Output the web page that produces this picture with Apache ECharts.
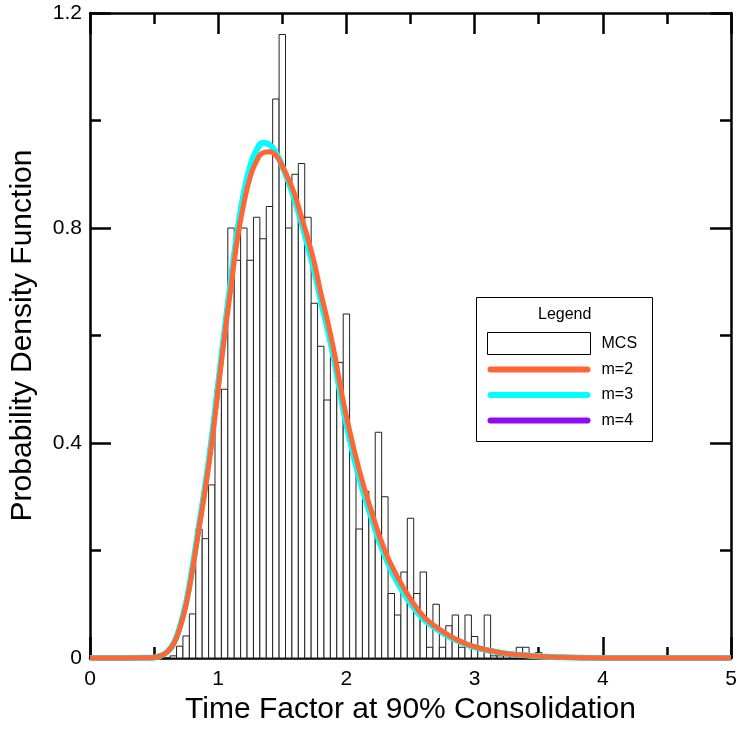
<!DOCTYPE html>
<html>
<head>
<meta charset="utf-8">
<script src="https://cdn.jsdelivr.net/npm/echarts@6/dist/echarts.min.js"></script>
<style>
  html, body { margin: 0; padding: 0; background: #fff; }
  #chart { width: 742px; height: 730px; }
</style>
</head>
<body>
<div id="chart"></div>
<script>
// histogram (MCS) - bin centres and heights, bin width 0.05
var binX = [0.65, 0.70, 0.75, 0.80, 0.85, 0.90, 0.95, 1.00, 1.05, 1.10,
  1.15, 1.20, 1.25, 1.30, 1.35, 1.40, 1.45, 1.50, 1.55, 1.60,
  1.65, 1.70, 1.75, 1.80, 1.85, 1.90, 1.95, 2.00, 2.05, 2.10,
  2.15, 2.20, 2.25, 2.30, 2.35, 2.40, 2.45, 2.50, 2.55, 2.60,
  2.65, 2.70, 2.75, 2.80, 2.85, 2.90, 2.95, 3.00, 3.05, 3.10,
  3.15, 3.20, 3.25, 3.30, 3.35, 3.40, 3.45, 3.50];
var binH = [0.004, 0.022, 0.041, 0.082, 0.24, 0.222, 0.322, 0.50, 0.50, 0.80,
  0.74, 0.80, 0.74, 0.82, 0.78, 0.84, 1.04, 1.16, 0.80, 0.90,
  0.92, 0.82, 0.66, 0.58, 0.48, 0.56, 0.55, 0.64, 0.38, 0.24,
  0.31, 0.26, 0.42, 0.30, 0.12, 0.08, 0.16, 0.26, 0.12, 0.16,
  0.02, 0.10, 0.02, 0.06, 0.08, 0.02, 0.08, 0.04, 0.02, 0.08,
  0.004, 0.004, 0.004, 0.004, 0.02, 0.02, 0.004, 0.01];
var binWidth = 0.05;

// fitted PDF curves
var curveX = [0, 0.3, 0.45, 0.5, 0.55, 0.6, 0.65, 0.7, 0.75, 0.8,
  0.85, 0.9, 0.95, 1.0, 1.05, 1.1, 1.15, 1.2, 1.25, 1.3,
  1.35, 1.4, 1.45, 1.5, 1.55, 1.6, 1.65, 1.7, 1.75, 1.8,
  1.85, 1.9, 1.95, 2.0, 2.1, 2.2, 2.3, 2.4, 2.5, 2.6,
  2.7, 2.8, 2.9, 3.0, 3.2, 3.4, 3.6, 4.0, 5.0];
var m2Y = [0, 0, 0.0005, 0.001, 0.004, 0.011, 0.025, 0.055, 0.10, 0.165,
  0.24, 0.315, 0.40, 0.50, 0.60, 0.69, 0.78, 0.845, 0.895, 0.925,
  0.94, 0.942, 0.935, 0.915, 0.89, 0.86, 0.82, 0.78, 0.735, 0.68,
  0.63, 0.575, 0.51, 0.45, 0.35, 0.27, 0.20, 0.15, 0.11, 0.078,
  0.058, 0.042, 0.03, 0.021, 0.01, 0.005, 0.002, 0, 0];
var m3Y = [0, 0, 0.0005, 0.001, 0.004, 0.011, 0.026, 0.057, 0.103, 0.17,
  0.246, 0.323, 0.41, 0.51, 0.61, 0.705, 0.795, 0.865, 0.915, 0.945,
  0.958, 0.955, 0.94, 0.915, 0.885, 0.85, 0.81, 0.765, 0.72, 0.665,
  0.615, 0.56, 0.495, 0.435, 0.335, 0.258, 0.19, 0.14, 0.102, 0.073,
  0.055, 0.04, 0.029, 0.02, 0.01, 0.005, 0.002, 0, 0];
var m4Y = [0, 0, 0.0005, 0.001, 0.004, 0.011, 0.026, 0.057, 0.103, 0.17,
  0.246, 0.323, 0.41, 0.51, 0.61, 0.705, 0.795, 0.865, 0.915, 0.945,
  0.958, 0.955, 0.94, 0.915, 0.885, 0.85, 0.81, 0.765, 0.72, 0.665,
  0.615, 0.56, 0.495, 0.435, 0.335, 0.258, 0.19, 0.14, 0.102, 0.073,
  0.055, 0.04, 0.029, 0.02, 0.01, 0.005, 0.002, 0, 0];

function pairs(xs, ys) {
  return xs.map(function (x, i) { return [x, ys[i]]; });
}

var FONT = "Liberation Sans";
var lineIcon = "path://M3,0 L103,0 A3,3 0 0 1 103,6 L3,6 A3,3 0 0 1 3,0 Z";

var myChart = echarts.init(document.getElementById("chart"));

var axisCommon = {
  axisLine: { show: true, onZero: false, lineStyle: { color: "#000", width: 2.5 } },
  axisTick: { show: true, inside: true, length: 21, lineStyle: { color: "#000", width: 2.5 } },
  minorTick: { show: true, splitNumber: 2, length: 11, lineStyle: { color: "#000", width: 2.5 } },
  splitLine: { show: false }
};

var option = {
  animation: false,
  backgroundColor: "#fff",
  grid: { left: 86, right: 11, top: 13, bottom: 69 },
  xAxis: [
    Object.assign({
      type: "value", min: 0, max: 5, interval: 1, position: "bottom",
      name: "Time Factor at 90% Consolidation",
      nameLocation: "middle", nameGap: 37,
      nameTextStyle: { fontFamily: FONT, fontSize: 30, color: "#000" },
      axisLabel: { fontFamily: FONT, fontSize: 21, color: "#000", margin: 11 }
    }, axisCommon),
    Object.assign({
      type: "value", min: 0, max: 5, interval: 1, position: "top",
      axisLabel: { show: false }
    }, axisCommon)
  ],
  yAxis: [
    Object.assign({
      type: "value", min: 0, max: 1.2, interval: 0.4, position: "left",
      name: "Probability Density Function",
      nameLocation: "middle", nameGap: 52,
      nameTextStyle: { fontFamily: FONT, fontSize: 30, color: "#000" },
      axisLabel: { fontFamily: FONT, fontSize: 21, color: "#000", margin: 8 }
    }, axisCommon),
    Object.assign({
      type: "value", min: 0, max: 1.2, interval: 0.4, position: "right",
      axisLabel: { show: false }
    }, axisCommon)
  ],
  legend: {
    left: 487, top: 332, z: 10, padding: 0,
    orient: "vertical",
    itemWidth: 103, itemHeight: 22, itemGap: 3.5,
    textStyle: { fontFamily: FONT, fontSize: 16, lineHeight: 22, color: "#000", padding: [0, 0, 0, 6] },
    data: [
      { name: "MCS", icon: "rect", itemStyle: { color: "#fff", borderColor: "#000", borderWidth: 1 } },
      { name: "m=2", icon: lineIcon },
      { name: "m=3", icon: lineIcon },
      { name: "m=4", icon: lineIcon }
    ]
  },
  graphic: [
    {
      type: "rect", left: 476, top: 297, z: 1, silent: true,
      shape: { width: 176, height: 144 },
      style: { fill: "#fff", stroke: "#000", lineWidth: 1 }
    },
    {
      type: "text", left: 538, top: 307, z: 2, silent: true,
      style: { text: "Legend", font: "16px " + FONT, fill: "#000" }
    }
  ],
  series: [
    {
      name: "MCS",
      type: "custom",
      z: 1,
      itemStyle: { color: "#fff", borderColor: "#000" },
      data: pairs(binX, binH),
      encode: { x: 0, y: 1 },
      renderItem: function (params, api) {
        var x = api.value(0), h = api.value(1);
        var p0 = api.coord([x - binWidth / 2, h]);
        var p1 = api.coord([x + binWidth / 2, 0]);
        return {
          type: "rect",
          shape: { x: p0[0], y: p0[1], width: p1[0] - p0[0], height: p1[1] - p0[1] },
          style: { fill: "#fff", stroke: "#222", lineWidth: 1 }
        };
      }
    },
    {
      name: "m=4", type: "line", z: 3, smooth: true, symbol: "none", clip: false,
      itemStyle: { color: "#8F0BF5" },
      lineStyle: { color: "#8F0BF5", width: 5 },
      data: pairs(curveX, m4Y)
    },
    {
      name: "m=3", type: "line", z: 4, smooth: true, symbol: "none", clip: false,
      itemStyle: { color: "#00FFFF" },
      lineStyle: { color: "#00FFFF", width: 6 },
      data: pairs(curveX, m3Y)
    },
    {
      name: "m=2", type: "line", z: 5, smooth: true, symbol: "none", clip: false,
      itemStyle: { color: "#FF6633" },
      lineStyle: { color: "#FF6633", width: 5 },
      data: pairs(curveX, m2Y)
    }
  ]
};

myChart.setOption(option);
</script>
</body>
</html>
